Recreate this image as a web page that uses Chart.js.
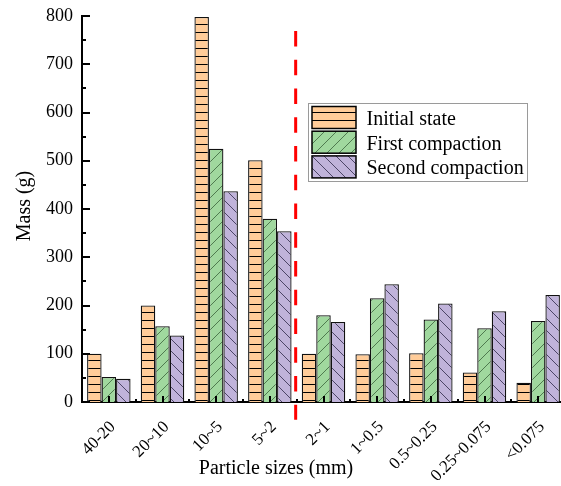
<!DOCTYPE html>
<html>
<head>
<meta charset="utf-8">
<script src="https://cdn.jsdelivr.net/npm/chart.js@4.4.0/dist/chart.umd.min.js"></script>
<style>
html, body { margin: 0; padding: 0; background: #fff; overflow: hidden; }
#wrap { position: relative; width: 565px; height: 486px; }
</style>
</head>
<body>
<div id="wrap"><canvas id="massChart"></canvas></div>
<script>
// Particle size fractions (mm) and retained mass (g) per compaction stage
const sizeLabels = ['40-20', '20~10', '10~5', '5~2', '2~1', '1~0.5', '0.5~0.25', '0.25~0.075', '<0.075'];
const initialState = [100, 200, 798, 501, 100, 99, 101, 61, 40];
const firstCompaction = [52, 157, 525, 380, 180, 215, 171, 153, 168];
const secondCompaction = [48, 138, 437, 354, 166, 244, 204, 188, 222];
const seriesNames = ['Initial state', 'First compaction', 'Second compaction'];

const Y_MIN = 0, Y_MAX = 800, Y_STEP = 100, Y_MINOR = 50;
// dashed separator between coarse and fine fractions (value range on y)
const SPLIT_AFTER = 3;
const SPLIT_FROM = -37, SPLIT_TO = 769;

const SERIF = '"Liberation Serif", "Times New Roman", serif';
Chart.defaults.font.family = SERIF;
Chart.defaults.color = '#000';

function makePattern(bg, line, kind) {
    const s = kind === 'h' ? 8 : 12;
    const c = document.createElement('canvas');
    c.width = s; c.height = s;
    const g = c.getContext('2d');
    g.fillStyle = bg;
    g.fillRect(0, 0, s, s);
    g.strokeStyle = line;
    g.lineWidth = 1;
    g.beginPath();
    if (kind === 'h') {
        g.moveTo(0, 0.5); g.lineTo(s, 0.5);
    } else if (kind === 'up') {
        g.moveTo(-1, s + 1); g.lineTo(s + 1, -1);
        g.moveTo(-1, 1); g.lineTo(1, -1);
        g.moveTo(s - 1, s + 1); g.lineTo(s + 1, s - 1);
    } else {
        g.moveTo(-1, -1); g.lineTo(s + 1, s + 1);
        g.moveTo(s - 1, -1); g.lineTo(s + 1, 1);
        g.moveTo(-1, s - 1); g.lineTo(1, s + 1);
    }
    g.stroke();
    return document.getElementById('massChart').getContext('2d').createPattern(c, 'repeat');
}

const fills = [
    makePattern('#FFCC99', '#000000', 'h'),
    makePattern('#A0D89E', '#4F7A4F', 'up'),
    makePattern('#C0B3DA', '#4C4566', 'down')
];

// ticks, separator, legend and axis titles
const decor = {
    id: 'decor',
    afterDatasetsDraw(chart) {
        const { ctx, chartArea: a, scales: { x, y } } = chart;
        ctx.save();
        ctx.strokeStyle = '#000';
        ctx.lineWidth = 2;
        ctx.beginPath();
        for (let v = Y_MIN; v <= Y_MAX; v += Y_MINOR) {
            const py = Math.round(y.getPixelForValue(v));
            const len = v % Y_STEP === 0 ? 8 : 4;
            ctx.moveTo(a.left, py); ctx.lineTo(a.left + len, py);
        }
        for (let i = 0; i < sizeLabels.length; i++) {
            const px = Math.round(x.getPixelForValue(i));
            ctx.moveTo(px, a.bottom); ctx.lineTo(px, a.bottom - 6);
            if (i > 0) {
                const bx = Math.round((x.getPixelForValue(i - 1) + x.getPixelForValue(i)) / 2);
                ctx.moveTo(bx, a.bottom); ctx.lineTo(bx, a.bottom - 3);
            }
        }
        ctx.stroke();

        // red dashed divider
        const sx = (x.getPixelForValue(SPLIT_AFTER) + x.getPixelForValue(SPLIT_AFTER + 1)) / 2 - 1;
        ctx.strokeStyle = '#FF0000';
        ctx.lineWidth = 3;
        ctx.setLineDash([15.5, 13.25]);
        ctx.beginPath();
        ctx.moveTo(sx, y.getPixelForValue(SPLIT_TO));
        ctx.lineTo(sx, y.getPixelForValue(SPLIT_FROM));
        ctx.stroke();
        ctx.restore();
    },
    afterDraw(chart) {
        const { ctx, chartArea: a } = chart;
        ctx.save();
        // legend
        const lx = 308, ly = 103, lw = 219, lh = 78;
        ctx.fillStyle = '#fff';
        ctx.fillRect(lx, ly, lw, lh);
        ctx.strokeStyle = '#9a9a9a';
        ctx.lineWidth = 1;
        ctx.strokeRect(lx + 0.5, ly + 0.5, lw, lh);
        ctx.font = '20px ' + SERIF;
        ctx.textBaseline = 'alphabetic';
        ctx.textAlign = 'left';
        seriesNames.forEach((name, i) => {
            const ry = 106.5 + i * 24.7;
            ctx.fillStyle = fills[i];
            ctx.fillRect(312, ry, 44, 22);
            ctx.strokeStyle = '#000';
            ctx.lineWidth = 1.5;
            ctx.strokeRect(312, ry, 44, 22);
            ctx.fillStyle = '#000';
            ctx.fillText(name, 366.5, ry + 18.5);
        });

        // axis titles
        ctx.font = '20px ' + SERIF;
        ctx.textAlign = 'center';
        ctx.fillText('Particle sizes (mm)', 276, 474);
        ctx.translate(29.5, (a.top + a.bottom) / 2 - 3);
        ctx.rotate(-Math.PI / 2);
        ctx.fillText('Mass (g)', 0, 0);
        ctx.restore();
    }
};

const barStyle = { borderColor: '#111', borderWidth: 1.3, barPercentage: 1, categoryPercentage: 0.81 };

new Chart(document.getElementById('massChart'), {
    type: 'bar',
    data: {
        labels: sizeLabels,
        datasets: [
            { label: seriesNames[0], data: initialState, backgroundColor: fills[0], ...barStyle },
            { label: seriesNames[1], data: firstCompaction, backgroundColor: fills[1], ...barStyle },
            { label: seriesNames[2], data: secondCompaction, backgroundColor: fills[2], ...barStyle }
        ]
    },
    options: {
        responsive: true,
        maintainAspectRatio: false,
        animation: false,
        layout: { padding: 0 },
        plugins: { legend: { display: false }, tooltip: { enabled: false } },
        scales: {
            x: {
                z: 1,
                grid: { display: false, drawTicks: false },
                border: { display: true, color: '#000', width: 2 },
                ticks: {
                    font: { size: 17 }, color: '#000',
                    maxRotation: 45, minRotation: 45,
                    autoSkip: false, padding: 15, labelOffset: 4
                },
                afterFit(scale) {
                    scale.height = 84;
                    scale.paddingLeft = 0;
                    scale.paddingRight = 0;
                }
            },
            y: {
                z: 1,
                min: Y_MIN, max: Y_MAX,
                grid: { display: false, drawTicks: false },
                border: { display: true, color: '#000', width: 2 },
                ticks: { stepSize: Y_STEP, font: { size: 18 }, color: '#000', padding: 9 },
                afterFit(scale) {
                    scale.width = 82;
                    scale.paddingTop = 16;
                    scale.paddingBottom = 0;
                }
            }
        }
    },
    plugins: [decor]
});
</script>
</body>
</html>
